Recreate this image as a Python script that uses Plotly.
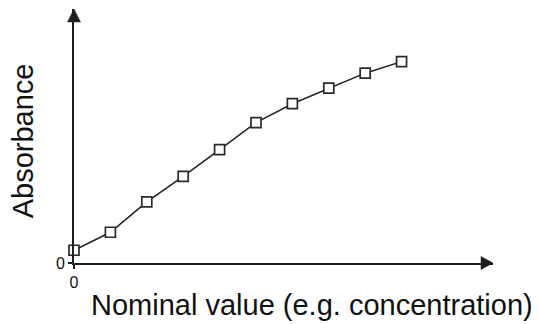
import plotly.graph_objects as go

# Data
x_vals = [0, 1, 2, 3, 4, 5, 6, 7, 8, 9]
absorbance = [0.064, 0.154, 0.306, 0.434, 0.568, 0.703, 0.798, 0.876, 0.951, 1.009]
x_title = "Nominal value (e.g. concentration)"
y_title = "Absorbance"
tick_labels = ["0"]

W, H = 539, 324
L, R, T, B = 73.5, 46, 9, 60.5
ink = "#1e1e1e"
FONT = "Liberation Sans, Arial, Helvetica"

fig = go.Figure()
fig.add_trace(go.Scatter(
    x=x_vals, y=absorbance, mode="lines",
    line=dict(color=ink, width=1.5),
    showlegend=False, cliponaxis=False,
))
fig.add_trace(go.Scatter(
    x=x_vals, y=absorbance, mode="markers",
    marker=dict(symbol="square", size=10, color="white", line=dict(width=1.7, color="#2a2a2a")),
    showlegend=False, cliponaxis=False,
))

pw = W - L - R
ph = H - T - B
xr = [0, pw / 36.44]
yr = [0, ph / 200.0]

axis_common = dict(showgrid=False, zeroline=False, showline=True,
                   linecolor=ink, linewidth=2, ticks="outside", ticklen=4, tickwidth=1.5,
                   tickcolor=ink, tickvals=[0], ticktext=tick_labels,
                   tickfont=dict(family=FONT, size=16, color="#111"))
fig.update_xaxes(range=xr, **axis_common)
fig.update_yaxes(range=yr, **axis_common)

def px2paper(px, py):
    return (px - L) / pw, (H - B - py) / ph

ax1 = [px2paper(67, 22), px2paper(80, 22), px2paper(73.5, 9)]
ax2 = [px2paper(481, 257), px2paper(481, 270), px2paper(493, 263.5)]
for tri in (ax1, ax2):
    path = "M {} {} L {} {} L {} {} Z".format(tri[0][0], tri[0][1], tri[1][0], tri[1][1], tri[2][0], tri[2][1])
    fig.add_shape(type="path", path=path, xref="paper", yref="paper",
                  fillcolor=ink, line=dict(color=ink, width=0.5))

tx, ty = px2paper(312, 324)
fig.add_annotation(text=x_title, xref="paper", yref="paper", x=tx, y=ty,
                   xanchor="center", yanchor="bottom", showarrow=False,
                   font=dict(family=FONT, size=29, color="#111"))
yx, yy = px2paper(4, 141)
fig.add_annotation(text=y_title, xref="paper", yref="paper", x=yx, y=yy, textangle=-90,
                   xanchor="left", yanchor="middle", showarrow=False,
                   font=dict(family=FONT, size=29, color="#111"))

fig.update_layout(width=W, height=H, margin=dict(l=L, r=R, t=T, b=B),
                  plot_bgcolor="white", paper_bgcolor="white")
fig.write_html("out.html", config={"displayModeBar": False},
               post_script="document.body.style.margin='0';document.body.style.padding='0';")
